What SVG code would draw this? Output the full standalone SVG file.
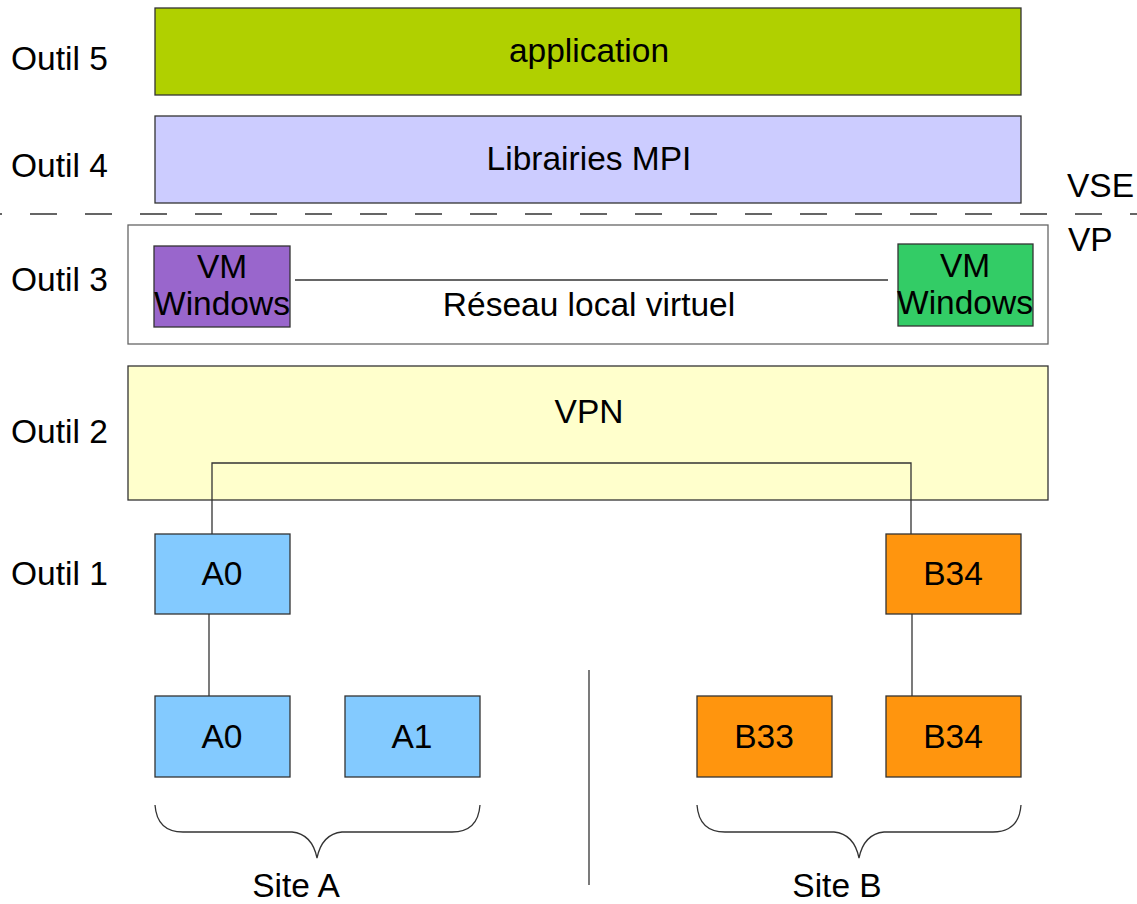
<svg xmlns="http://www.w3.org/2000/svg" width="1137" height="904" viewBox="0 0 1137 904">
<style>
text{font-family:"Liberation Sans",Arial,sans-serif;font-size:33.5px;fill:#000}
.c{text-anchor:middle}
.box{stroke:#333;stroke-width:1.3}
.ln{fill:none;stroke:#333;stroke-width:1.3}
</style>
<rect width="1137" height="904" fill="#fff"/>
<g id="labels">
<text x="11" y="70">Outil 5</text>
<text x="11" y="177">Outil 4</text>
<text x="11" y="291">Outil 3</text>
<text x="11" y="443">Outil 2</text>
<text x="11" y="585">Outil 1</text>
<text x="1067" y="197">VSE</text>
<text x="1068" y="251">VP</text>
</g>
<line x1="0" y1="214" x2="1137" y2="214" stroke="#333" stroke-width="1.3" stroke-dasharray="27 28" stroke-dashoffset="-30"/>
<g id="application"><rect class="box" x="155" y="8" width="866" height="87" fill="#b0d000"/><text class="c" x="589" y="62">application</text></g>
<g id="mpi"><rect class="box" x="155" y="116" width="866" height="87" fill="#ccccff"/><text class="c" x="589" y="170">Librairies MPI</text></g>
<g id="outil3"><rect x="128" y="225" width="920" height="119" fill="#fff" stroke="#666" stroke-width="1.3"/><text class="c" x="589" y="316">Réseau local virtuel</text></g>
<g id="vm1"><rect class="box" x="154" y="246" width="136" height="81" fill="#9966cc"/><text class="c" x="222" y="278">VM</text><text class="c" x="222" y="315">Windows</text></g>
<g id="vm2"><rect class="box" x="898" y="244" width="135" height="82" fill="#33cc66"/><text class="c" x="965" y="277">VM</text><text class="c" x="965" y="314">Windows</text></g>
<g id="vpn"><rect class="box" x="128" y="366" width="920" height="134" fill="#ffffcc"/><text class="c" x="589" y="423">VPN</text></g>
<g id="a0top"><rect class="box" x="155" y="534" width="135" height="80" fill="#83caff"/><text class="c" x="222" y="585">A0</text></g>
<g id="b34top"><rect class="box" x="886" y="534" width="135" height="80" fill="#ff950e"/><text class="c" x="953" y="585">B34</text></g>
<g id="a0"><rect class="box" x="155" y="696" width="135" height="81" fill="#83caff"/><text class="c" x="222" y="748">A0</text></g>
<g id="a1"><rect class="box" x="345" y="696" width="135" height="81" fill="#83caff"/><text class="c" x="412" y="748">A1</text></g>
<g id="b33"><rect class="box" x="697" y="696" width="135" height="81" fill="#ff950e"/><text class="c" x="764" y="748">B33</text></g>
<g id="b34"><rect class="box" x="886" y="696" width="135" height="81" fill="#ff950e"/><text class="c" x="953" y="748">B34</text></g>
<g id="connectors">
<line class="ln" x1="295" y1="280" x2="888" y2="280"/>
<polyline class="ln" points="212,534 212,463 911,463 911,534"/>
<line class="ln" x1="209" y1="614" x2="209" y2="696"/>
<line class="ln" x1="912" y1="614" x2="912" y2="696"/>
<line class="ln" x1="589" y1="670" x2="589" y2="885"/>
<path class="ln" d="M155,805 Q157,832 183,832 L292,832 Q312,834 317,858 Q322,834 342,832 L452,832 Q478,832 480,805"/>
<path class="ln" d="M697,805 Q699,832 725,832 L834,832 Q854,834 859,858 Q864,834 884,832 L993,832 Q1019,832 1021,805"/>
</g>
<g id="sites">
<text class="c" x="296" y="897">Site A</text>
<text class="c" x="837" y="897">Site B</text>
</g>
</svg>
